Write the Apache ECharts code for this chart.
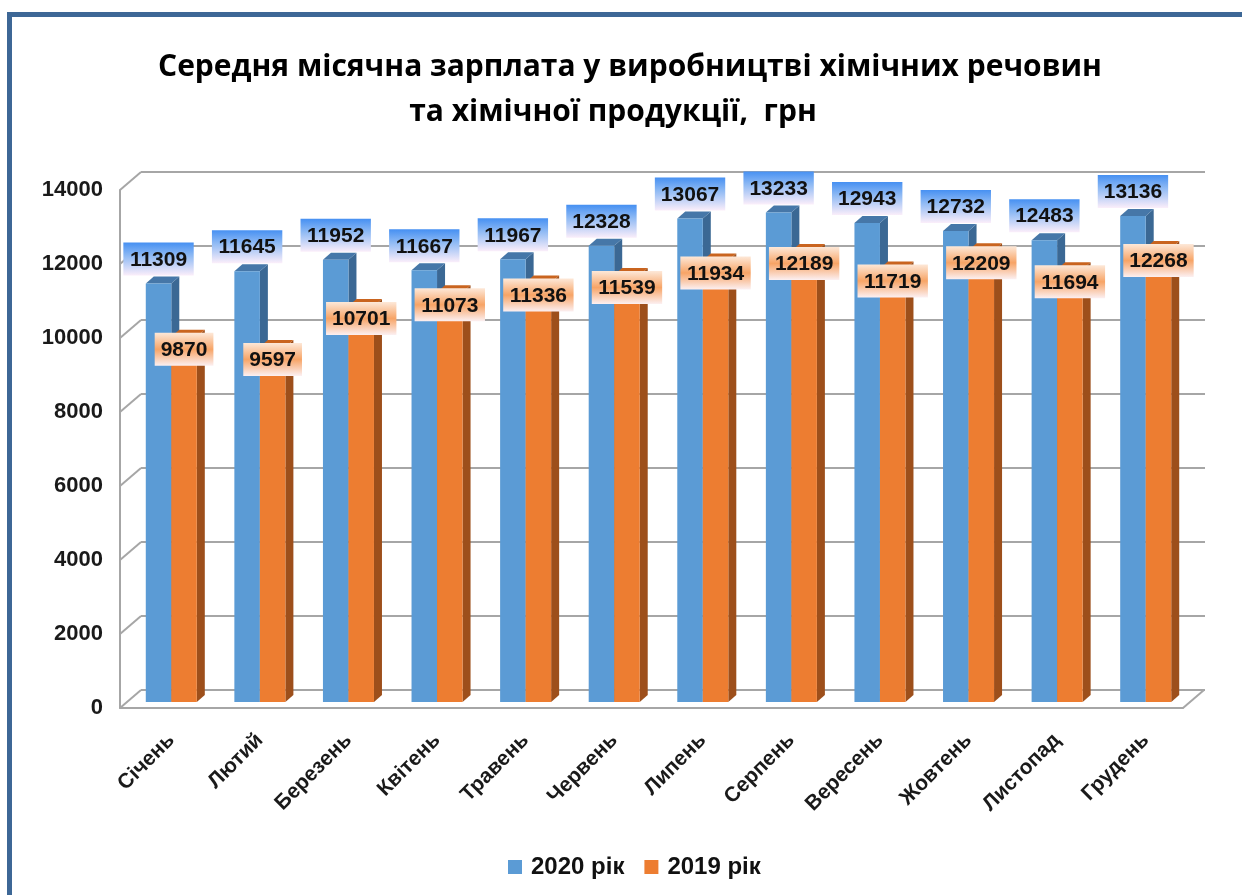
<!DOCTYPE html>
<html>
<head>
<meta charset="utf-8">
<script src="https://cdn.jsdelivr.net/npm/echarts@6/dist/echarts.min.js"></script>
<style>
  html, body { margin: 0; padding: 0; background: #ffffff; }
  #chart { width: 1242px; height: 895px; }
</style>
</head>
<body>
<div id="chart"></div>
<script>
// Monthly average wage in chemical production, UAH
const months = ['Січень', 'Лютий', 'Березень', 'Квітень', 'Травень', 'Червень',
  'Липень', 'Серпень', 'Вересень', 'Жовтень', 'Листопад', 'Грудень'];
const wages2020 = [11309, 11645, 11952, 11667, 11967, 12328, 13067, 13233, 12943, 12732, 12483, 13136];
const wages2019 = [9870, 9597, 10701, 11073, 11336, 11539, 11934, 12189, 11719, 12209, 11694, 12268];
const yTicks = [0, 2000, 4000, 6000, 8000, 10000, 12000, 14000];
const seriesNames = ['2020 рік', '2019 рік'];

const chart = echarts.init(document.getElementById('chart'));

// pseudo-3D depth of the plot box and of each column
const WALL_DX = 21, WALL_DY = 18;
const BAR_DX = 8, BAR_DY = 7;
const BAR_FRACTION = 0.288;
const LABEL_FONT_SIZE = 21;

const palette = [
  { front: '#5b9bd5', side: '#3b6894', top: '#4677a8' },
  { front: '#ed7d31', side: '#9d4f1b', top: '#c9641f' }
];

function barGeometry(api, s) {
  const cat = api.value(0), v = api.value(1);
  const base = api.coord([cat, 0]);
  const top = api.coord([cat, v]);
  const band = api.size([1, 0])[0];
  const bw = band * BAR_FRACTION;
  const x0 = base[0] - bw + s * bw;
  return { x0, bw, yTop: top[1], yBase: base[1] };
}

function renderBar(s) {
  return function (params, api) {
    const g = barGeometry(api, s);
    const c = palette[s];
    const xr = g.x0 + g.bw;
    return {
      type: 'group',
      children: [
        { type: 'polygon', shape: { points: [[xr, g.yTop], [xr + BAR_DX, g.yTop - BAR_DY], [xr + BAR_DX, g.yBase - BAR_DY], [xr, g.yBase]] },
          style: { fill: c.side } },
        { type: 'polygon', shape: { points: [[g.x0, g.yTop], [g.x0 + BAR_DX, g.yTop - BAR_DY], [xr + BAR_DX, g.yTop - BAR_DY], [xr, g.yTop]] },
          style: { fill: c.top } },
        { type: 'rect', shape: { x: g.x0, y: g.yTop, width: g.bw, height: g.yBase - g.yTop },
          style: { fill: c.front } }
      ]
    };
  };
}

const labelFills = [
  new echarts.graphic.LinearGradient(0, 0, 0, 1, [
    { offset: 0, color: '#4690f2' }, { offset: 0.4, color: '#8fbaf4' }, { offset: 1, color: '#fbeefa' }
  ]),
  new echarts.graphic.LinearGradient(0, 0, 0, 1, [
    { offset: 0, color: '#fde8d8' }, { offset: 0.5, color: '#f7a466' }, { offset: 1, color: '#fcf0f2' }
  ])
];

function renderLabel(s) {
  return function (params, api) {
    const g = barGeometry(api, s);
    const text = String(api.value(1));
    const w = text.length * 0.556 * LABEL_FONT_SIZE + 12;
    const h = 33;
    const cx = g.x0 + g.bw / 2;
    const y = s === 0 ? g.yTop - 8 - h : g.yTop - 4;
    return {
      type: 'group',
      children: [
        { type: 'rect', shape: { x: cx - w / 2, y: y, width: w, height: h }, style: { fill: labelFills[s] } },
        { type: 'text', x: cx, y: y + h / 2 + 1,
          style: { text: text, align: 'center', verticalAlign: 'middle',
            font: 'bold ' + LABEL_FONT_SIZE + 'px "Liberation Sans", Arial, sans-serif', fill: '#111111' } }
      ]
    };
  };
}

function renderWallEdges(params, api) {
  const cs = params.coordSys;
  const y = api.coord([0, api.value(0)])[1];
  const children = [
    { type: 'line', shape: { x1: cs.x, y1: y, x2: cs.x + WALL_DX, y2: y - WALL_DY },
      style: { stroke: '#a6a6a6', lineWidth: 2 } }
  ];
  if (api.value(0) === 0) {
    const xr = cs.x + cs.width;
    children.push({ type: 'line', shape: { x1: xr, y1: y, x2: xr + WALL_DX, y2: y - WALL_DY },
      style: { stroke: '#a6a6a6', lineWidth: 2 } });
  }
  return { type: 'group', children };
}

const gridLine = { color: '#a6a6a6', width: 2 };
const axisFont = { fontFamily: '"Liberation Sans", Arial, sans-serif', fontWeight: 'bold', color: '#1a1a1a' };
const titleFont = { fontFamily: '"Open Sans", sans-serif', fontWeight: 'bold', fontSize: 30, color: '#000000' };

const option = {
  backgroundColor: '#ffffff',
  animation: false,
  title: [
    { text: 'Середня місячна зарплата у виробництві хімічних речовин', left: 625, top: 47, textAlign: 'center',
      textStyle: titleFont },
    { text: 'та хімічної продукції,  грн', left: 608, top: 92, textAlign: 'center',
      textStyle: titleFont }
  ],
  graphic: [
    { type: 'rect', shape: { x: 9.5, y: 14.5, width: 1300, height: 1000 },
      style: { fill: 'none', stroke: '#3d6796', lineWidth: 5 }, silent: true }
  ],
  legend: {
    data: seriesNames,
    left: 503, top: 850,
    icon: 'rect', itemWidth: 14, itemHeight: 14, itemGap: 20,
    textStyle: { fontFamily: '"Liberation Sans", Arial, sans-serif', fontWeight: 'bold', fontSize: 24, color: '#111111',
      padding: [0, 0, 0, 4] }
  },
  grid: [
    { left: 120, right: 59, top: 190, bottom: 187, outerBoundsMode: 'none', containLabel: false },
    { left: 141, right: 37, top: 172, bottom: 205, outerBoundsMode: 'none', containLabel: false },
    { left: 127, right: 52, top: 184, bottom: 193, outerBoundsMode: 'none', containLabel: false }
  ],
  xAxis: [
    { gridIndex: 0, type: 'category', data: months,
      axisLine: { show: true, lineStyle: gridLine }, axisTick: { show: false }, axisLabel: { show: false } },
    { gridIndex: 1, type: 'category', data: months, show: false },
    { gridIndex: 2, type: 'category', data: months,
      axisLine: { show: false }, axisTick: { show: false },
      axisLabel: Object.assign({ rotate: 45, fontSize: 21, margin: 35, interval: 0 }, axisFont) }
  ],
  yAxis: [
    { gridIndex: 0, type: 'value', min: 0, max: 14000, interval: 2000,
      axisLine: { show: true, lineStyle: gridLine }, axisTick: { show: false }, splitLine: { show: false },
      axisLabel: Object.assign({ fontSize: 22, margin: 17, formatter: v => String(v) }, axisFont) },
    { gridIndex: 1, type: 'value', min: 0, max: 14000, interval: 2000,
      axisLine: { show: false }, axisTick: { show: false }, axisLabel: { show: false },
      splitLine: { show: true, lineStyle: gridLine } },
    { gridIndex: 2, type: 'value', min: 0, max: 14000, interval: 2000, show: false, splitLine: { show: false } }
  ],
  series: [
    { type: 'custom', name: 'wall', xAxisIndex: 0, yAxisIndex: 0, silent: true,
      data: yTicks.map(v => [v]), renderItem: renderWallEdges, z: 1 },
    { type: 'custom', name: seriesNames[0], xAxisIndex: 2, yAxisIndex: 2, color: palette[0].front,
      data: wages2020.map((v, i) => [i, v]), renderItem: renderBar(0), z: 2 },
    { type: 'custom', name: seriesNames[1], xAxisIndex: 2, yAxisIndex: 2, color: palette[1].front,
      data: wages2019.map((v, i) => [i, v]), renderItem: renderBar(1), z: 3 },
    { type: 'custom', name: 'labels2020', xAxisIndex: 2, yAxisIndex: 2, silent: true,
      data: wages2020.map((v, i) => [i, v]), renderItem: renderLabel(0), z: 5 },
    { type: 'custom', name: 'labels2019', xAxisIndex: 2, yAxisIndex: 2, silent: true,
      data: wages2019.map((v, i) => [i, v]), renderItem: renderLabel(1), z: 6 }
  ]
};

chart.setOption(option);
</script>
</body>
</html>
